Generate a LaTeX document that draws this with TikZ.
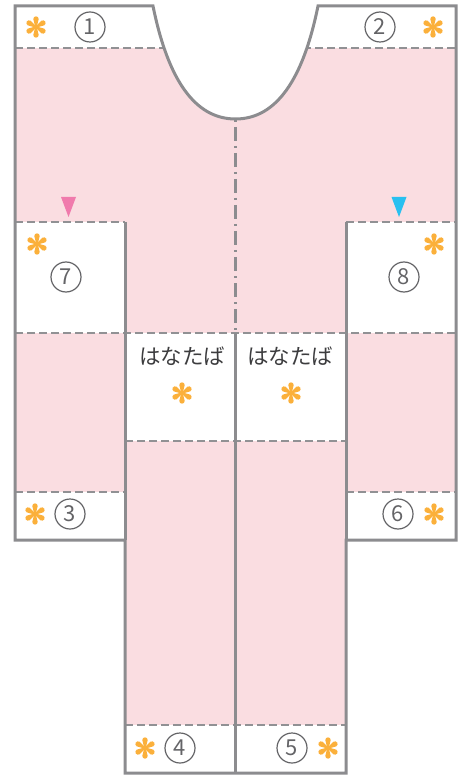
\documentclass[tikz,border=0pt]{standalone}
\usepackage{fontspec}
\newfontfamily\jpfont{Noto Sans CJK JP}
\definecolor{pinkfill}{RGB}{250,221,225}
\definecolor{linegray}{RGB}{140,140,143}
\definecolor{dashgray}{RGB}{145,145,148}
\definecolor{numgray}{RGB}{100,100,103}
\definecolor{textgray}{RGB}{60,60,62}
\definecolor{astorange}{RGB}{251,176,59}
\definecolor{tripink}{RGB}{240,122,172}
\definecolor{tricyan}{RGB}{40,192,240}
\tikzset{
  outl/.style={draw=linegray, line width=3pt, line join=miter},
  seam/.style={draw=dashgray, line width=2.4pt, dash pattern=on 8pt off 4pt},
  centerseam/.style={draw=linegray, line width=2.4pt, dash pattern=on 2pt off 5pt on 14pt off 5pt},
  num/.style={circle, draw=numgray, line width=1.2pt, minimum size=30pt, inner sep=0pt,
    text=numgray, font=\jpfont\fontsize{22}{22}\selectfont},
  jptext/.style={text=textgray, font=\jpfont\fontsize{21.5}{23}\selectfont, inner sep=0pt},
  flower/.pic={
    \foreach \a in {30,90,...,330}{
      \fill[astorange, rotate=\a] (0,-0.7) -- (8,-2.7) arc[start angle=-90, end angle=90, radius=2.7] -- (0,0.7) -- cycle;
    }
  }
}
\begin{document}
\begin{tikzpicture}[x=1pt,y=-1pt]
\useasboundingbox (0,0) rectangle (462,775);
\def\outline{(15,6) -- (153,6) .. controls (168,80) and (195,119) .. (235.5,119) .. controls (276,119) and (303,80) .. (318,6) -- (456,6) -- (456,540) -- (346,540) -- (346,773) -- (125,773) -- (125,540) -- (15,540) -- cycle}
\begin{scope}
  \clip \outline;
  \fill[pinkfill] (15,48) rectangle (456,222);
  \fill[pinkfill] (125,222) rectangle (346,333);
  \fill[pinkfill] (15,333) rectangle (125,492);
  \fill[pinkfill] (346,333) rectangle (456,492);
  \fill[pinkfill] (125,441) rectangle (346,725);
  \draw[seam] (15,48) -- (456,48);
  \draw[seam] (15,222) -- (125,222);
  \draw[seam] (346,222) -- (456,222);
  \draw[seam] (15,333) -- (456,333);
  \draw[seam] (125,441) -- (346,441);
  \draw[seam] (15,492) -- (125,492);
  \draw[seam] (346,492) -- (456,492);
  \draw[seam] (125,725) -- (346,725);
\end{scope}
\draw[centerseam] (235.5,120) -- (235.5,333);
\draw[outl] (125,222) -- (125,540);
\draw[outl] (346,222) -- (346,540);
\draw[outl] (235.5,333) -- (235.5,773);
\draw[outl] \outline;
% triangles
\fill[tripink] (61,197) -- (76,197) -- (68.5,217) -- cycle;
\fill[tricyan] (391.5,197) -- (406.5,197) -- (399,217) -- cycle;
% labels
\node[num] (n1) at (90,27) {1};
\node[num] (n2) at (380,27) {2};
\node[num] (n3) at (70,514) {3};
\node[num] (n4) at (180,748) {4};
\node[num] (n5) at (292,748) {5};
\node[num] (n6) at (398,514) {6};
\node[num] (n7) at (66,277) {7};
\node[num] (n8) at (404,277) {8};
\node[jptext] (h1) at (182,356) {はなたば};
\node[jptext] (h2) at (290,356) {はなたば};
% asterisks
\pic at (36,27) {flower};
\pic at (433,27) {flower};
\pic at (37,244) {flower};
\pic at (434,244) {flower};
\pic at (182,393) {flower};
\pic at (291,393) {flower};
\pic at (35,514) {flower};
\pic at (434,514) {flower};
\pic at (145,748) {flower};
\pic at (328,748) {flower};
\end{tikzpicture}
\end{document}
